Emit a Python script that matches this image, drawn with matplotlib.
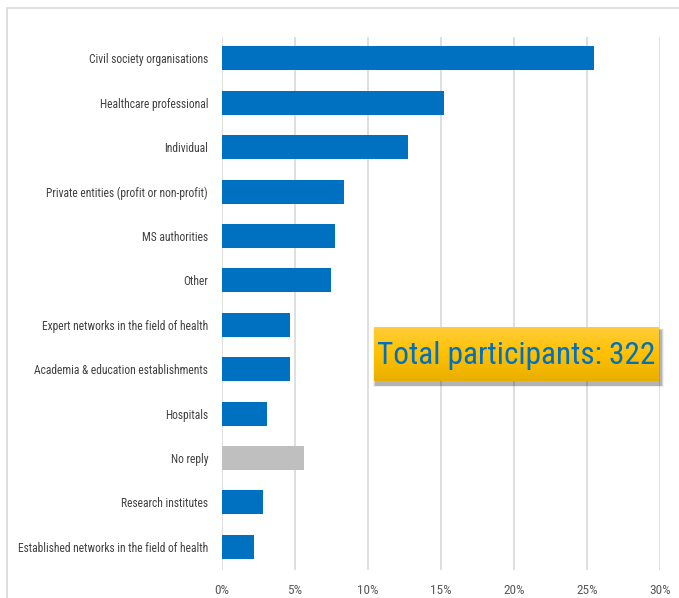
import numpy as np
import matplotlib.pyplot as plt
from matplotlib.patches import Rectangle
from matplotlib.colors import LinearSegmentedColormap

FONT = ['Roboto Condensed', 'DejaVu Sans']

# respondents by type of organisation
categorias = [
    'Civil society organisations',
    'Healthcare professional',
    'Individual',
    'Private entities (profit or non-profit)',
    'MS authorities',
    'Other',
    'Expert networks in the field of health',
    'Academia & education establishments',
    'Hospitals',
    'No reply',
    'Research institutes',
    'Established networks in the field of health',
]
respostas = [82, 49, 41, 27, 25, 24, 15, 15, 10, 18, 9, 7]
total = 322
cores = ['#0070C0'] * 9 + ['#BFBFBF'] + ['#0070C0'] * 2

percentual = [r / total * 100 for r in respostas]

fig = plt.figure(figsize=(6.79, 5.98), dpi=100)

# thin frame around the chart area
fig.patches.append(Rectangle((7 / 679, -0.1), 1.2, 1.1 - 8 / 598,
                             transform=fig.transFigure, fill=False,
                             edgecolor='#D9D9D9', linewidth=1.2))

ax = fig.add_axes([222 / 679, 1 - 570 / 598, (660 - 222) / 679, (570 - 37) / 598])
y = np.arange(len(categorias))
ax.barh(y, percentual, height=0.54, color=cores, zorder=3)
ax.set_ylim(len(categorias) - 0.48, -0.48)
ax.set_xlim(0, 30)
ax.set_xticks(range(0, 31, 5))
ax.set_xticklabels([f'{v}%' for v in range(0, 31, 5)], family=FONT,
                   fontsize=9.5, color='#595959')
ax.set_yticks(y)
ax.set_yticklabels(categorias, family=FONT, fontsize=8.3, color='#404040')
ax.tick_params(axis='y', length=0, pad=10)
ax.tick_params(axis='x', length=0, pad=10)
ax.grid(axis='x', color='#D9D9D9', linewidth=1.2, zorder=0)
for lado in ax.spines.values():
    lado.set_visible(False)

# highlighted total box with a soft shadow and yellow gradient
x0, x1, y0, y1 = 374 / 679, 659 / 679, 1 - 381 / 598, 1 - 327 / 598
sombra = fig.add_axes([x0, y0, x1 - x0, y1 - y0], zorder=9)
sombra.set_axis_off()
for i, a in enumerate([0.06, 0.10, 0.16]):
    d = (3 - i) / 300
    sombra.add_patch(Rectangle((0.008 - d, -0.07 - d * 4), 1 + 2 * d, 1 + 8 * d,
                               transform=sombra.transAxes, clip_on=False,
                               facecolor='black', alpha=a, edgecolor='none'))
caixa = fig.add_axes([x0, y0, x1 - x0, y1 - y0], zorder=10)
grad = np.linspace(0, 1, 100).reshape(-1, 1)
cmap = LinearSegmentedColormap.from_list('amarelo', ['#FFCD3A', '#FFC000', '#E9AF00'])
caixa.imshow(grad, aspect='auto', cmap=cmap, extent=[0, 1, 0, 1], origin='upper')
caixa.set_axis_off()
caixa.text(0.5, 0.47, f'Total participants: {total}', ha='center', va='center',
           family=FONT, fontsize=22.5, color='#0070C0', transform=caixa.transAxes)

plt.savefig('out.png', dpi=100)
